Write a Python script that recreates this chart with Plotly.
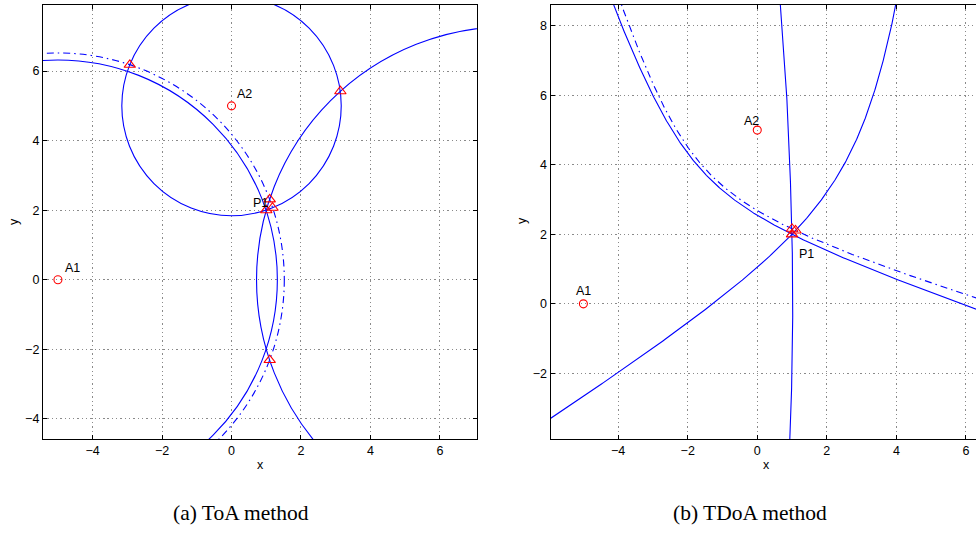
import numpy as np
import plotly.graph_objects as go

# ---------------- data ----------------
anchor_names = ["A1", "A2", "A3"]
anchor_x = [-5.0, 0.0, 8.0]
anchor_y = [0.0, 5.0, 0.0]
true_pos_x = [1.0]
true_pos_y = [2.0]
ranges_true = [6.32, 3.16, 7.28]      # measured distance to A1, A2, A3
range_a1_noisy = 6.52                 # erroneous ToA range to A1

# intersection points marked with triangles (ToA)
toa_tri_x = [-2.93, 1.18, 1.10, 1.10, 1.00, 3.135]
toa_tri_y = [6.18, 2.07, 2.31, -2.31, 2.00, 5.42]
# intersection points marked with triangles (TDoA)
tdoa_tri_x = [1.00, 1.00, 1.10]
tdoa_tri_y = [2.00, 2.16, 2.11]

x_ticks = [-4, -2, 0, 2, 4, 6]
y_ticks_a = [-4, -2, 0, 2, 4, 6]
y_ticks_b = [-2, 0, 2, 4, 6, 8]

BLUE = "#0000FF"
RED = "#FF0000"
GRID = "#8a8a8a"
FONT = "Liberation Sans"
DASHDOT = "7px,4px,1.5px,4px"


def hyperbola(i, j, k, tmax=3.2, n=800):
    """branch of |P-Ai| - |P-Aj| = k"""
    f1 = np.array([anchor_x[i], anchor_y[i]])
    f2 = np.array([anchor_x[j], anchor_y[j]])
    c_pt = (f1 + f2) / 2
    u = (f2 - f1) / np.linalg.norm(f2 - f1)
    v = np.array([-u[1], u[0]])
    c = np.linalg.norm(f2 - f1) / 2
    a = abs(k) / 2
    b = np.sqrt(c * c - a * a)
    s = np.sign(k)
    t = np.linspace(-tmax, tmax, n)
    pts = c_pt[:, None] + s * a * np.cosh(t)[None, :] * u[:, None] + b * np.sinh(t)[None, :] * v[:, None]
    return pts[0], pts[1]


fig = go.Figure()

# ---------------- (a) ToA ----------------
circles = [
    (0, ranges_true[0], "solid"),
    (0, range_a1_noisy, DASHDOT),
    (1, ranges_true[1], "solid"),
    (2, ranges_true[2], "solid"),
]
for idx, r, dash in circles:
    cx, cy = anchor_x[idx], anchor_y[idx]
    fig.add_shape(type="circle", xref="x", yref="y",
                  x0=cx - r, x1=cx + r, y0=cy - r, y1=cy + r,
                  line=dict(color=BLUE, width=1.1, dash=dash), layer="between")

fig.add_trace(go.Scatter(x=anchor_x, y=anchor_y, mode="markers", xaxis="x", yaxis="y",
                         marker=dict(symbol="circle-open", size=8, color=RED, line=dict(width=1.1)),
                         showlegend=False))
fig.add_trace(go.Scatter(x=toa_tri_x, y=toa_tri_y, mode="markers", xaxis="x", yaxis="y",
                         marker=dict(symbol="triangle-up-open", size=10, color=RED, line=dict(width=1.1)),
                         showlegend=False))

# ---------------- (b) TDoA ----------------
hyp = [
    (0, 1, ranges_true[0] - ranges_true[1], "solid"),
    (0, 1, range_a1_noisy - ranges_true[1], DASHDOT),
    (0, 2, ranges_true[0] - ranges_true[2], "solid"),
    (1, 2, ranges_true[1] - ranges_true[2], "solid"),
]
for i, j, k, dash in hyp:
    hx, hy = hyperbola(i, j, k)
    fig.add_trace(go.Scatter(x=hx, y=hy, mode="lines", xaxis="x2", yaxis="y2",
                             line=dict(color=BLUE, width=1.1, dash=dash), showlegend=False))

fig.add_trace(go.Scatter(x=anchor_x, y=anchor_y, mode="markers", xaxis="x2", yaxis="y2",
                         marker=dict(symbol="circle-open", size=8, color=RED, line=dict(width=1.1)),
                         showlegend=False))
fig.add_trace(go.Scatter(x=tdoa_tri_x, y=tdoa_tri_y, mode="markers", xaxis="x2", yaxis="y2",
                         marker=dict(symbol="triangle-up-open", size=10, color=RED, line=dict(width=1.1)),
                         showlegend=False))

# ---------------- labels ----------------
ann = []
lab_a = [("A1", anchor_x[0] + 0.15, anchor_y[0] + 0.35, "left"),
         ("A2", anchor_x[1] + 0.1, anchor_y[1] + 0.35, "left"),
         ("P1", true_pos_x[0] - 0.45, true_pos_y[0] + 0.2, "left")]
for t, x, y, xa in lab_a:
    ann.append(dict(text=t, x=x, y=y, xref="x", yref="y", xanchor=xa, yanchor="middle",
                    showarrow=False, font=dict(family=FONT, size=12.5, color="black")))
lab_b = [("A1", anchor_x[0], anchor_y[0] + 0.38, "center"),
         ("A2", anchor_x[1] - 0.44, anchor_y[1] + 0.25, "left"),
         ("P1", true_pos_x[0] + 0.13, true_pos_y[0] - 0.57, "left")]
for t, x, y, xa in lab_b:
    ann.append(dict(text=t, x=x, y=y, xref="x2", yref="y2", xanchor=xa, yanchor="middle",
                    showarrow=False, font=dict(family=FONT, size=12.5, color="black")))

W, H = 976, 540
axis_labels = [("x", 260, 465, 0), ("y", 14, 222, -90), ("x", 766, 465, 0), ("y", 522, 221, -90)]
for t, px, py, rot in axis_labels:
    ann.append(dict(text=t, x=px / W, y=1 - py / H, xref="paper", yref="paper",
                    xanchor="center", yanchor="middle", textangle=rot, showarrow=False,
                    font=dict(family=FONT, size=12.5, color="black")))
captions = [("(a) ToA method", 241, 513), ("(b) TDoA method", 750, 513)]
for t, px, py in captions:
    ann.append(dict(text=t, x=px / W, y=1 - py / H, xref="paper", yref="paper",
                    xanchor="center", yanchor="middle", showarrow=False,
                    font=dict(family="Liberation Serif", size=21.5, color="black")))


def ax(domain, rng, ticks, anchor, mirror):
    return dict(domain=domain, range=rng, tickvals=ticks, anchor=anchor,
                ticks="inside", ticklen=4, tickcolor="black", tickwidth=1,
                showline=True, linecolor="black", linewidth=1.3, mirror=mirror,
                showgrid=True, gridcolor=GRID, gridwidth=1, griddash="1.3px,3px",
                zeroline=False, tickfont=dict(family=FONT, size=12.5, color="black"))


yd = [1 - 439 / H, 1 - 5 / H]
fig.update_layout(
    width=W, height=H, margin=dict(l=0, r=0, t=0, b=0),
    paper_bgcolor="white", plot_bgcolor="white",
    xaxis=ax([43 / W, 477 / W], [-5.43, 7.07], x_ticks, "y", "ticks"),
    yaxis=ax(yd, [-4.58, 7.9], y_ticks_a, "x", "ticks"),
    xaxis2=ax([550.7 / W, 1.0], [-5.94, 6.29], x_ticks, "y2", "ticks"),
    yaxis2=ax(yd, [-3.89, 8.6], y_ticks_b, "x2", False),
    annotations=ann,
)

fig.write_html("out.html", config={"displayModeBar": False},
               post_script="document.body.style.margin='0';document.body.style.overflow='hidden';")
